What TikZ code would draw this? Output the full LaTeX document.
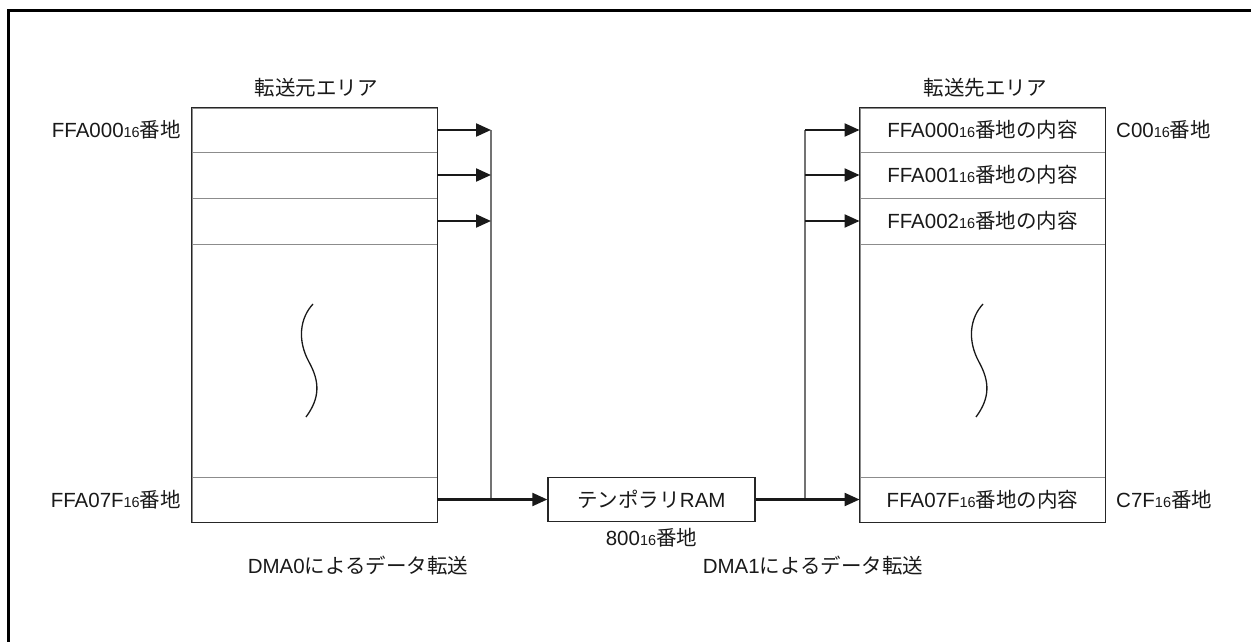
\documentclass[tikz,border=0pt]{standalone}
\usepackage{fontspec}
\setmainfont{Liberation Sans}
\newfontfamily\jp{Noto Sans CJK JP}
\usetikzlibrary{arrows.meta}
\newcommand\hx[1]{{\fontsize{14.5}{14.5}\selectfont #1}}
\newcommand\ja[1]{{\jp\fontsize{20.5}{22}\selectfont #1}}
\tikzset{
  lbl/.style={inner sep=0pt, font=\fontsize{20.5}{22}\selectfont, text=black!90},
  cell/.style={rectangle, draw=black!45, line width=0.9pt, minimum width=245pt, inner sep=0pt, font=\fontsize{20.5}{22}\selectfont, text=black!90},
  boxline/.style={draw=black!85, line width=1.4pt},
  conn/.style={draw=black!55, line width=1.4pt},
  arr/.style={draw=black!90, line width=2.2pt, -{Triangle[length=15pt,width=13pt]}},
  wave/.style={draw=black!90, line width=1.3pt},
}
\begin{document}
\begin{tikzpicture}[x=1pt,y=-1pt]
\useasboundingbox (0,0) rectangle (1251,642);
% frame (top and left only)
\draw[line width=2.5pt] (8.7,642) -- (8.7,10.5) -- (1251,10.5);

% titles
\node[lbl] (ttl1) at (316,88) {\ja{転送元エリア}};
\node[lbl] (ttl2) at (985,88) {\ja{転送先エリア}};

% source cells
\node[cell, minimum height=44pt]  (s0) at (314.5,130) {};
\node[cell, minimum height=46pt]  (s1) at (314.5,175) {};
\node[cell, minimum height=46pt]  (s2) at (314.5,221) {};
\node[cell, minimum height=233pt] (sm) at (314.5,360.5) {};
\node[cell, minimum height=45pt]  (sN) at (314.5,499.5) {};
\draw[boxline] (s0.north west) rectangle (sN.south east);

% destination cells
\node[cell, minimum height=44pt]  (d0) at (982.5,130) {FFA000\hx{16}\ja{番地の内容}};
\node[cell, minimum height=46pt]  (d1) at (982.5,175) {FFA001\hx{16}\ja{番地の内容}};
\node[cell, minimum height=46pt]  (d2) at (982.5,221) {FFA002\hx{16}\ja{番地の内容}};
\node[cell, minimum height=233pt] (dm) at (982.5,360.5) {};
\node[cell, minimum height=45pt]  (dN) at (982.5,499.5) {FFA07F\hx{16}\ja{番地の内容}};
\draw[boxline] (d0.north west) rectangle (dN.south east);

% address labels
\node[lbl, anchor=east] (la0) at (181,130) {FFA000\hx{16}\ja{番地}};
\node[lbl, anchor=east] (laN) at (181,500) {FFA07F\hx{16}\ja{番地}};
\node[lbl, anchor=west] (ra0) at (1116,130) {C00\hx{16}\ja{番地}};
\node[lbl, anchor=west] (raN) at (1116,500) {C7F\hx{16}\ja{番地}};

% temporary RAM
\node[rectangle, draw=black!85, line width=1.4pt, minimum width=207pt, minimum height=44pt, inner sep=0pt,
      font=\fontsize{20.5}{22}\selectfont, text=black!90] (ram) at (651.5,499.5) {\ja{テンポラリ}RAM};
\node[lbl] (ramaddr) at (651.5,538) {800\hx{16}\ja{番地}};

% DMA labels
\node[lbl] (dma0) at (358,566) {DMA0\ja{によるデータ転送}};
\node[lbl] (dma1) at (813,566) {DMA1\ja{によるデータ転送}};

% left connectors
\coordinate (vl) at (491,0);
\draw[conn] (s0.east -| vl) -- (sN.east -| vl);
\draw[arr] (s0.east) -- (s0.east -| vl);
\draw[arr] (s1.east) -- (s1.east -| vl);
\draw[arr] (s2.east) -- (s2.east -| vl);
\draw[arr] (sN.east) -- (ram.west);

% right connectors
\coordinate (vr) at (805,0);
\draw[conn] (d0.west -| vr) -- (dN.west -| vr);
\draw[arr] (d0.west -| vr) -- (d0.west);
\draw[arr] (d1.west -| vr) -- (d1.west);
\draw[arr] (d2.west -| vr) -- (d2.west);
\draw[arr] (ram.east) -- (dN.west);

% break marks
\draw[wave] (313,304) .. controls (300,318) and (297,340) .. (309,362) .. controls (320,382) and (320,398) .. (306,417);
\draw[wave] (983,304) .. controls (970,318) and (967,340) .. (979,362) .. controls (990,382) and (990,398) .. (976,417);
\end{tikzpicture}
\end{document}
